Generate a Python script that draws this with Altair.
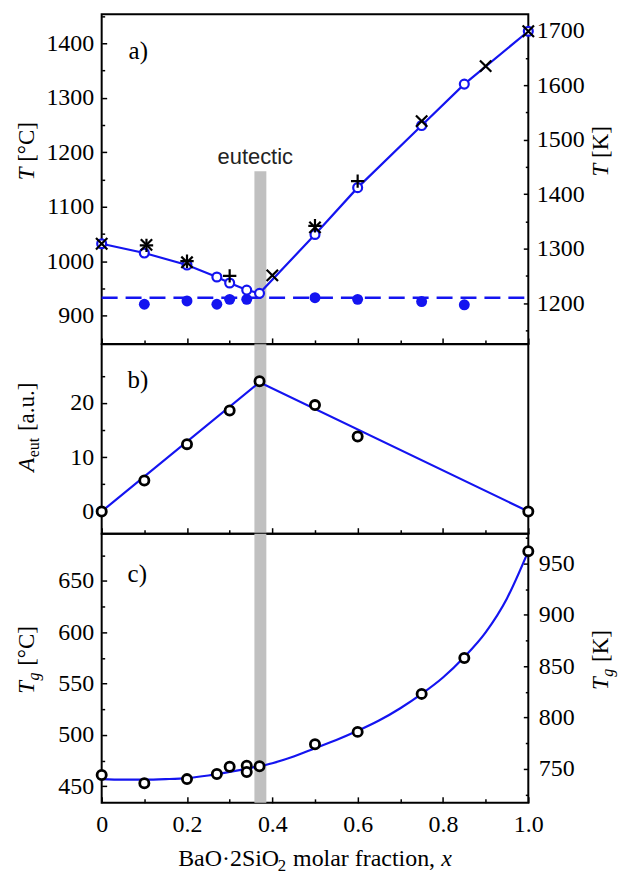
import altair as alt
import pandas as pd

SERIF = "Liberation Serif"
SANS = "Liberation Sans"
BLUE = "#1414f0"
BAND = "#c0c0c0"

# ---------------- data ----------------
# panel a) liquidus (open blue circles + line)
liq_x = [0, 0.1, 0.2, 0.27, 0.3, 0.34, 0.37, 0.5, 0.6, 0.75, 0.85, 1.0]
liq_T = [1032, 1015, 993, 971, 960, 947, 941, 1049, 1135, 1249, 1325, 1422]
# eutectic (filled blue circles)
sol_x = [0.1, 0.2, 0.27, 0.3, 0.34, 0.5, 0.6, 0.75, 0.85]
sol_T = [921, 927, 921, 930, 930, 933, 930, 926, 920]
eut_line_x = [0, 1.0]
eut_line_T = [933, 933]
# literature data (+ and x)
plus_x = [0.105, 0.2, 0.3, 0.5, 0.6]
plus_T = [1029, 1000, 973, 1065, 1147]
cross_x = [0, 0.105, 0.2, 0.4, 0.5, 0.75, 0.9, 1.0]
cross_T = [1032, 1030, 998, 974, 1062, 1257, 1358, 1422]
# eutectic band
band_lo = [0.358]
band_hi = [0.386]
band_top_T = [1165]
eut_label_x = [0.36]
eut_label_T = [1178]

# panel b)
aeut_x = [0, 0.1, 0.2, 0.3, 0.37, 0.5, 0.6, 1.0]
aeut = [0, 5.7, 12.4, 18.6, 24.0, 19.6, 13.8, 0]
aeut_line_x = [0, 0.37, 1.0]
aeut_line = [0, 23.8, 0]

# panel c)
tg_x = [0, 0.1, 0.2, 0.27, 0.3, 0.34, 0.34, 0.37, 0.5, 0.6, 0.75, 0.85, 1.0]
tg = [461, 453, 457, 462, 469, 470, 464, 469.5, 491, 503, 540, 575, 679]
tgfit_x = [0, 0.05, 0.1, 0.15, 0.2, 0.25, 0.3, 0.35, 0.4, 0.45, 0.5, 0.55,
           0.6, 0.65, 0.7, 0.75, 0.8, 0.85, 0.9, 0.95, 1.0]
tgfit = [457, 456.5, 456.5, 457, 458, 460.5, 464, 468, 472.5, 479, 487, 495,
         504, 514, 526, 540, 556, 576, 600, 633, 679]

# ticks
x_major = [0, 0.2, 0.4, 0.6, 0.8, 1.0]
x_minor = [0.1, 0.3, 0.5, 0.7, 0.9]
a_major = [900, 1000, 1100, 1200, 1300, 1400]
a_minor = [850, 950, 1050, 1150, 1250, 1350, 1450]
a_kmajor = [1200, 1300, 1400, 1500, 1600, 1700]
a_kminor = [1150, 1250, 1350, 1450, 1550, 1650]
b_major = [0, 10, 20]
b_minor = [5, 15, 25]
c_major = [450, 500, 550, 600, 650]
c_minor = [475, 525, 575, 625, 675]
c_kmajor = [750, 800, 850, 900, 950]
c_kminor = [725, 775, 825, 875, 925, 975]

# ---------------- layout ----------------
W = 428
HA, HB, HC = 330.6, 190, 270
X_DOM = [0, 1]
A_DOM = [848.2, 1453.0]
A_KDOM = [1125.4, 1730.1]
B_DOM = [-4.1, 30.8]
C_DOM = [433.9, 696.0]
C_KDOM = [717.0, 979.1]

ONE = pd.DataFrame({"o": [0]})

REG = {' ': 250, '[': 333, ']': 333, '°': 400, 'C': 667, 'K': 722, 'a': 444,
       'u': 500, '.': 250, 'e': 444, 't': 278, 'B': 667, 'O': 722, '·': 250,
       '2': 500, 'S': 556, 'i': 278, 'm': 778, 'o': 500, 'l': 278, 'r': 333,
       'f': 333, 'c': 444, 'n': 500, ',': 250}
IT = {'T': 556, 'A': 611, 'g': 500, 'x': 444}


def seg_width(text, italic, size):
    tbl = IT if italic else REG
    return sum(tbl.get(c, 500) for c in text) * size / 1000.0


def text_layer(txt, x, y, size, italic=False, angle=None, font=SERIF):
    kw = dict(text=txt, font=font, fontSize=size,
              fontStyle='italic' if italic else 'normal',
              align='left', baseline='alphabetic', color='black')
    if angle is not None:
        kw['angle'] = angle
    return alt.Chart(ONE).mark_text(**kw).encode(x=alt.value(x), y=alt.value(y))


def composite(segs, size, center, base, vertical):
    sub_scale, sub_shift = 0.7, 0.22
    widths = []
    for t, it, sub in segs:
        s = size * (sub_scale if sub else 1)
        widths.append(seg_width(t, it, s) + (1.5 if sub else 0))
    total = sum(widths)
    cur = -total / 2
    layers = []
    for (t, it, sub), w in zip(segs, widths):
        s = size * (sub_scale if sub else 1)
        lead = len(t) - len(t.lstrip(' '))
        start = cur + seg_width(' ' * lead, False, s) + (0.5 if sub else 0)
        shift = size * sub_shift if sub else 0
        if vertical:
            layers.append(text_layer(t.strip(), base + shift, center - start, s, it, angle=270))
        else:
            layers.append(text_layer(t.strip(), center + start, base + shift, s, it))
        cur += w
    return layers


def axis(orient, values, size, labels=False, pad=8, fmt=None, expr=None):
    kw = dict(orient=orient, values=values, tickSize=size, offset=-size,
              domain=False, grid=False, labels=labels, title=None, ticks=True,
              tickColor='black', tickWidth=1.5)
    if labels:
        kw.update(labelFont=SERIF, labelFontSize=24, labelColor='black',
                  labelPadding=pad, labelFlush=False, labelOverlap=False,
                  labelBound=False)
        if fmt:
            kw['format'] = fmt
        if expr:
            kw['labelExpr'] = expr
    return alt.Axis(**kw)


def X(field, ax=None):
    return alt.X(field, type='quantitative',
                 scale=alt.Scale(domain=X_DOM, nice=False, zero=False), axis=ax)


def Y(field, dom, ax=None):
    return alt.Y(field, type='quantitative',
                 scale=alt.Scale(domain=dom, nice=False, zero=False), axis=ax)


plus_path = "M-1,0L1,0M0,-1L0,1"
cross_path = "M-1,-1L1,1M-1,1L1,-1"
XLAB = "datum.value == 0 ? '0' : format(datum.value, '.1f')"

# ---------------- panel a ----------------
band_a_df = pd.DataFrame({"x0": band_lo, "x1": band_hi, "top": band_top_T})
band_a = alt.Chart(band_a_df).mark_rect(color=BAND).encode(
    x=X("x0", axis('bottom', x_major, 6)), x2="x1",
    y=Y("top", A_DOM, axis('left', a_major, 5, True, 8, 'd')), y2=alt.value(HA))

eut_a = alt.Chart(pd.DataFrame({"x": eut_line_x, "T": eut_line_T})).mark_line(
    color=BLUE, strokeWidth=2.5, strokeDash=[16, 8]).encode(
    x=X("x", axis('bottom', x_minor, 4)), y=Y("T", A_DOM, axis('left', a_minor, 3)))

liq_df = pd.DataFrame({"x": liq_x, "T": liq_T})
liq_line = alt.Chart(liq_df).mark_line(color=BLUE, strokeWidth=2.2).encode(
    x=X("x"), y=Y("T", A_DOM))
sol_pts = alt.Chart(pd.DataFrame({"x": sol_x, "T": sol_T})).mark_point(
    shape='circle', filled=True, color=BLUE, size=120, opacity=1).encode(
    x=X("x"), y=Y("T", A_DOM))
liq_pts = alt.Chart(liq_df).mark_point(
    shape='circle', filled=True, fill='white', stroke=BLUE, strokeWidth=2.2,
    size=80, opacity=1).encode(x=X("x"), y=Y("T", A_DOM))
plus_pts = alt.Chart(pd.DataFrame({"x": plus_x, "T": plus_T})).mark_point(
    shape=plus_path, filled=False, stroke='black', strokeWidth=2.2, size=180,
    opacity=1).encode(x=X("x"), y=Y("T", A_DOM))
cross_pts = alt.Chart(pd.DataFrame({"x": cross_x, "T": cross_T})).mark_point(
    shape=cross_path, filled=False, stroke='black', strokeWidth=2.2, size=130,
    opacity=1).encode(x=X("x"), y=Y("T", A_DOM))
eut_text = alt.Chart(pd.DataFrame({"x": eut_label_x, "T": eut_label_T})).mark_text(
    text="eutectic", font=SANS, fontSize=22, color='#222222', align='center',
    baseline='alphabetic').encode(x=X("x"), y=Y("T", A_DOM))

k_a1 = alt.Chart(pd.DataFrame({"k": a_kmajor})).mark_point(opacity=0).encode(
    x=alt.value(0), y=Y("k", A_KDOM, axis('right', a_kmajor, 5, True, 8, 'd')))
k_a2 = alt.Chart(pd.DataFrame({"k": a_kminor})).mark_point(opacity=0).encode(
    x=alt.value(0), y=Y("k", A_KDOM, axis('right', a_kminor, 3)))

lab_a = alt.Chart(ONE).mark_text(text="a)", font=SERIF, fontSize=25, align='left',
                                 baseline='alphabetic', color='black').encode(
    x=alt.value(27), y=alt.value(44.5))

TS = 23
title_a_l = composite([("T", True, False), (" [°C]", False, False)], TS, 137.3, -68, True)
title_a_r = composite([("T", True, False), (" [K]", False, False)], TS, 137.3, W + 80, True)

panel_a = alt.layer(band_a, eut_text, eut_a, liq_line, sol_pts, liq_pts, plus_pts,
                    cross_pts, k_a1, k_a2, lab_a, *title_a_l, *title_a_r).resolve_scale(
    y='independent').resolve_axis(x='independent', y='independent').properties(
    width=W, height=HA)

# ---------------- panel b ----------------
band_b = alt.Chart(pd.DataFrame({"x0": band_lo, "x1": band_hi})).mark_rect(color=BAND).encode(
    x=X("x0", axis('bottom', x_major, 6)), x2="x1", y=alt.value(0), y2=alt.value(HB))
b_line = alt.Chart(pd.DataFrame({"x": aeut_line_x, "a": aeut_line})).mark_line(
    color=BLUE, strokeWidth=2.2).encode(
    x=X("x", axis('bottom', x_minor, 4)), y=Y("a", B_DOM, axis('left', b_minor, 3)))
b_pts = alt.Chart(pd.DataFrame({"x": aeut_x, "a": aeut})).mark_point(
    shape='circle', filled=True, fill='white', stroke='black', strokeWidth=2.8,
    size=85, opacity=1).encode(
    x=X("x"), y=Y("a", B_DOM, axis('left', b_major, 5, True, 8, 'd')))
lab_b = alt.Chart(ONE).mark_text(text="b)", font=SERIF, fontSize=25, align='left',
                                 baseline='alphabetic', color='black').encode(
    x=alt.value(26), y=alt.value(44))
title_b = composite([("A", True, False), ("eut", False, True), (" [a.u.]", False, False)],
                    TS, 83.2, -68, True)
panel_b = alt.layer(band_b, b_line, b_pts, lab_b, *title_b).resolve_scale(
    y='independent').resolve_axis(x='independent', y='independent').properties(
    width=W, height=HB)

# ---------------- panel c ----------------
band_c = alt.Chart(pd.DataFrame({"x0": band_lo, "x1": band_hi})).mark_rect(color=BAND).encode(
    x=X("x0", axis('bottom', x_major, 6, True, 10, expr=XLAB)), x2="x1",
    y=alt.value(0), y2=alt.value(HC))
c_line = alt.Chart(pd.DataFrame({"x": tgfit_x, "t": tgfit})).mark_line(
    color=BLUE, strokeWidth=2.2, interpolate='monotone').encode(
    x=X("x", axis('bottom', x_minor, 4)), y=Y("t", C_DOM, axis('left', c_minor, 3)))
c_pts = alt.Chart(pd.DataFrame({"x": tg_x, "t": tg})).mark_point(
    shape='circle', filled=True, fill='white', stroke='black', strokeWidth=2.8,
    size=85, opacity=1).encode(
    x=X("x"), y=Y("t", C_DOM, axis('left', c_major, 5, True, 8, 'd')))
k_c1 = alt.Chart(pd.DataFrame({"k": c_kmajor})).mark_point(opacity=0).encode(
    x=alt.value(0), y=Y("k", C_KDOM, axis('right', c_kmajor, 5, True, 10, 'd')))
k_c2 = alt.Chart(pd.DataFrame({"k": c_kminor})).mark_point(opacity=0).encode(
    x=alt.value(0), y=Y("k", C_KDOM, axis('right', c_kminor, 3)))
lab_c = alt.Chart(ONE).mark_text(text="c)", font=SERIF, fontSize=25, align='left',
                                 baseline='alphabetic', color='black').encode(
    x=alt.value(26), y=alt.value(48))
title_c_l = composite([("T", True, False), ("g", True, True), (" [°C]", False, False)],
                      TS, 126.7, -68, True)
title_c_r = composite([("T", True, False), ("g", True, True), (" [K]", False, False)],
                      TS, 126.7, W + 80, True)
xtitle = composite([("BaO·2SiO", False, False), ("2", False, True),
                    (" molar fraction, ", False, False), ("x", True, False)],
                   24, W / 2, 333.4, False)
panel_c = alt.layer(band_c, c_line, c_pts, k_c1, k_c2, lab_c, *title_c_l, *title_c_r,
                    *xtitle).resolve_scale(y='independent').resolve_axis(
    x='independent', y='independent').properties(width=W, height=HC)

chart = alt.vconcat(panel_a, panel_b, panel_c, spacing=0, bounds='flush').properties(
    padding={"left": 14, "top": 12, "right": 5, "bottom": 2},
    background='white').configure_view(stroke='black', strokeWidth=2)

chart.save("out.html", embed_options={"renderer": "svg", "actions": False})
